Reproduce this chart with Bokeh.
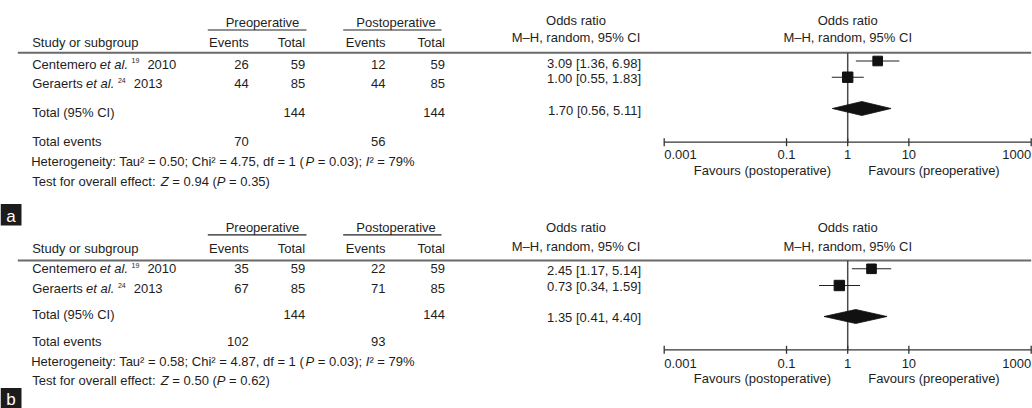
import math
from bokeh.plotting import figure
from bokeh.models import Range1d, LogScale, ColumnDataSource
from bokeh.core.properties import value
from bokeh.embed import file_html
from bokeh.resources import INLINE

# ---------------- data ----------------
panel_names = ["a", "b"]
study_names = ["Centemero", "Geraerts"]
study_refs = ["19", "24"]
study_years = ["2010", "2013"]

pre_events = [[26, 44], [35, 67]]
pre_total = [[59, 85], [59, 85]]
post_events = [[12, 44], [22, 71]]
post_total = [[59, 85], [59, 85]]

odds = [[3.09, 1.00], [2.45, 0.73]]
ci_low = [[1.36, 0.55], [1.17, 0.34]]
ci_high = [[6.98, 1.83], [5.14, 1.59]]

pooled_or = [1.70, 1.35]
pooled_low = [0.56, 0.41]
pooled_high = [5.11, 4.40]

total_pre = [144, 144]
total_post = [144, 144]
events_pre = [70, 102]
events_post = [56, 93]

tau2 = ["0.50", "0.58"]
chi2 = ["4.75", "4.87"]
het_df = ["1", "1"]
p_het = ["0.03", "0.03"]
i2 = ["79", "79"]
z_val = ["0.94", "0.50"]
p_val = ["0.35", "0.62"]

axis_ticks = [0.001, 0.1, 1, 10, 1000]
axis_tick_labels = ["0.001", "0.1", "1", "10", "1000"]
favours_labels = ["Favours (postoperative)", "Favours (preoperative)"]

# ---------------- layout (reference pixel units) ----------------
W_REF, H_REF = 1032, 408
FIG_W, FIG_H = 1032, 408
SX = FIG_W / W_REF
FONT = "Liberation Sans"
FS = 13.0
SUP = 7.0
TXT = "#1e1e1e"
TEXT_DY = -4.0

X_STUDY = 31.7
X_PRE_EV, X_PRE_TOT = 248.3, 304.7
X_POST_EV, X_POST_TOT = 385.0, 444.5
X_PRE_C, X_POST_C = 262.0, 395.5
X_OR_HEAD, X_OR_VAL = 575.5, 640.5
LOG_L, LOG_R = 663.7, 1030.7   # where the first and last tick sit

LAY = [
    dict(grp=26.0, grp_line=29.5, col=45.6, or_h1=24.4, or_h2=40.6, hline=52.3,
         rows=[67.6, 87.3], or_rows=[66.7, 82.3], fr=[60.5, 76.7],
         tot=116.0, or_tot=114.0, dia=108.0, ev=145.2, het=165.2, test=185.3,
         axis=141.7, tick_lab=157.5, fav=174.0, box=(203.5, 225.0), box_text=220.0),
    dict(grp=231.0, grp_line=234.4, col=251.8, or_h1=230.8, or_h2=250.2, hline=260.0,
         rows=[272.2, 292.2], or_rows=[273.6, 290.4], fr=[268.3, 285.0],
         tot=317.7, or_tot=320.6, dia=316.0, ev=345.3, het=365.0, test=384.3,
         axis=349.3, tick_lab=366.7, fav=382.0, box=(387.5, 408.0), box_text=402.5),
]

AW = {' ': 278, '!': 278, '%': 889, '(': 333, ')': 333, ',': 278, '-': 333, '.': 278,
      ':': 278, ';': 278, '=': 584, '[': 278, ']': 278, '\u00b2': 333, '\u2013': 556,
      'A': 667, 'B': 667, 'C': 722, 'D': 722, 'E': 667, 'F': 611, 'G': 778, 'H': 722,
      'I': 278, 'J': 500, 'K': 667, 'L': 556, 'M': 833, 'N': 722, 'O': 778, 'P': 667,
      'Q': 778, 'R': 722, 'S': 667, 'T': 611, 'U': 722, 'V': 667, 'W': 944, 'X': 667,
      'Y': 667, 'Z': 611, 'a': 556, 'b': 556, 'c': 500, 'd': 556, 'e': 556, 'f': 278,
      'g': 556, 'h': 556, 'i': 222, 'j': 222, 'k': 500, 'l': 222, 'm': 833, 'n': 556,
      'o': 556, 'p': 556, 'q': 556, 'r': 333, 's': 500, 't': 278, 'u': 556, 'v': 500,
      'w': 722, 'x': 500, 'y': 500, 'z': 500}


def tw(s, size=FS):
    return sum(AW.get(c, 556) for c in s) / 1000.0 * size


groups = {}


def put(x, y, s, align="left", style="normal", size=FS, rng="default", color=TXT, xoff=0.0):
    # SVG drops leading/trailing blanks, so move x past them and draw the trimmed text
    if align == "left":
        lead = len(s) - len(s.lstrip(" "))
        x += tw(" " * lead, size)
    s = s.strip(" ")
    if not s:
        return
    key = (align, style, size, rng, color, xoff)
    g = groups.setdefault(key, dict(x=[], y=[], text=[]))
    g["x"].append(x)
    g["y"].append(y + TEXT_DY)
    g["text"].append(s)


def put_runs(x, y, runs):
    """runs: list of (text, style) placed one after another."""
    for s, style in runs:
        put(x, y, s, style=style)
        x += tw(s)


p = figure(width=FIG_W, height=FIG_H, x_range=Range1d(0, W_REF), y_range=Range1d(H_REF, 0),
           x_axis_type=None, y_axis_type=None, toolbar_location=None, output_backend="svg",
           min_border=0, min_border_left=0, min_border_right=0, min_border_top=0,
           min_border_bottom=0, outline_line_color=None, background_fill_color="white",
           border_fill_color="white")
p.grid.visible = False

lo_dec = math.log10(axis_ticks[0])
hi_dec = math.log10(axis_ticks[-1])
ppd = (LOG_R - LOG_L) / (hi_dec - lo_dec)
p.extra_x_ranges = {"or": Range1d(10 ** (lo_dec - LOG_L / ppd), 10 ** (hi_dec + (W_REF - LOG_R) / ppd))}
p.extra_x_scales = {"or": LogScale()}

for k, L in enumerate(LAY):
    # ---- headers ----
    put(X_PRE_C, L["grp"], "Preoperative", align="center")
    put(X_POST_C, L["grp"], "Postoperative", align="center")
    p.segment(x0=[207.3, 342.7], x1=[306.0, 441.0], y0=[L["grp_line"]] * 2, y1=[L["grp_line"]] * 2,
              line_color="#222222", line_width=1.1)
    put(X_STUDY, L["col"], "Study or subgroup")
    put(X_PRE_EV, L["col"], "Events", align="right")
    put(X_PRE_TOT, L["col"], "Total", align="right")
    put(X_POST_EV, L["col"], "Events", align="right")
    put(X_POST_TOT, L["col"], "Total", align="right")
    put(X_OR_HEAD, L["or_h1"], "Odds ratio", align="center")
    put(X_OR_HEAD, L["or_h2"], "M\u2013H, random, 95% CI", align="center")
    put(1, L["or_h1"], "Odds ratio", align="center", rng="or")
    put(1, L["or_h2"], "M\u2013H, random, 95% CI", align="center", rng="or")
    p.segment(x0=[17.3], x1=[1030.7], y0=[L["hline"]], y1=[L["hline"]],
              line_color="#6a6a6a", line_width=1.9)

    # ---- study rows ----
    for i in range(len(study_names)):
        y = L["rows"][i]
        x = X_STUDY
        put(x, y, study_names[i])
        x += tw(study_names[i] + " ") - 0.3
        put(x, y, "et al.", style="italic")
        x += tw("et al. ")
        put(x, y - 3.5, study_refs[i], size=SUP)
        x += tw(study_refs[i], SUP) + 8.0
        put(x, y, study_years[i])
        put(X_PRE_EV, y, str(pre_events[k][i]), align="right")
        put(X_PRE_TOT, y, str(pre_total[k][i]), align="right")
        put(X_POST_EV, y, str(post_events[k][i]), align="right")
        put(X_POST_TOT, y, str(post_total[k][i]), align="right")
        put(X_OR_VAL, L["or_rows"][i],
            f"{odds[k][i]:.2f} [{ci_low[k][i]:.2f}, {ci_high[k][i]:.2f}]", align="right")

    # ---- totals ----
    put(X_STUDY, L["tot"], "Total (95% CI)")
    put(X_PRE_TOT, L["tot"], str(total_pre[k]), align="right")
    put(X_POST_TOT, L["tot"], str(total_post[k]), align="right")
    put(X_OR_VAL, L["or_tot"],
        f"{pooled_or[k]:.2f} [{pooled_low[k]:.2f}, {pooled_high[k]:.2f}]", align="right")
    put(X_STUDY, L["ev"], "Total events")
    put(X_PRE_EV, L["ev"], str(events_pre[k]), align="right")
    put(X_POST_EV, L["ev"], str(events_post[k]), align="right")
    put_runs(X_STUDY - 1.0, L["het"], [
        (f"Heterogeneity: Tau\u00b2 = {tau2[k]}; Chi\u00b2 = {chi2[k]}, df = {het_df[k]} (", "normal"),
        ("P", "italic"),
        (f" = {p_het[k]}); ", "normal"),
        ("I", "italic"),
        (f"\u00b2 = {i2[k]}%", "normal"),
    ])
    put_runs(X_STUDY, L["test"], [
        ("Test for overall effect: ", "normal"),
        ("Z", "italic"),
        (f" = {z_val[k]} (", "normal"),
        ("P", "italic"),
        (f" = {p_val[k]})", "normal"),
    ])

    # ---- forest plot ----
    p.segment(x0=[1], x1=[1], y0=[L["hline"]], y1=[L["axis"]], x_range_name="or",
              line_color="#4a4a4a", line_width=1.5)
    p.segment(x0=ci_low[k], x1=ci_high[k], y0=L["fr"], y1=L["fr"], x_range_name="or",
              line_color="#222222", line_width=1.1)
    p.scatter(x=odds[k], y=L["fr"], marker="square", size=[9.6 * SX, 10.4 * SX],
              x_range_name="or", fill_color="#111111", line_color="#111111")
    yc = L["dia"]
    p.patch(x=[pooled_low[k], pooled_or[k], pooled_high[k], pooled_or[k]],
            y=[yc, yc - 7.0, yc, yc + 7.0], x_range_name="or",
            fill_color="#111111", line_color="#111111", line_width=0.8)

    # axis
    ya = L["axis"]
    p.segment(x0=[axis_ticks[0]], x1=[axis_ticks[-1]], y0=[ya], y1=[ya], x_range_name="or",
              line_color="#333333", line_width=1.3)
    p.segment(x0=axis_ticks, x1=axis_ticks, y0=[ya - 4.0] * len(axis_ticks),
              y1=[ya + 4.0] * len(axis_ticks), x_range_name="or",
              line_color="#333333", line_width=1.3)
    for j, (t, lab) in enumerate(zip(axis_ticks, axis_tick_labels)):
        al = "left" if j == 0 else ("right" if j == len(axis_ticks) - 1 else "center")
        put(t, L["tick_lab"], lab, align=al, rng="or")
    put(1, L["fav"], favours_labels[0], align="right", rng="or", xoff=-16.6)
    put(1, L["fav"], favours_labels[1], align="left", rng="or", xoff=20.5)

    # panel label
    b0, b1 = L["box"]
    p.quad(left=[0.0], right=[21.0], top=[b0], bottom=[b1], fill_color="#1c1c1c", line_color=None)
    put(10.5, L["box_text"], panel_names[k], align="center", size=17.0, color="#ffffff")

for (align, st, size, rng, color, xoff), g in groups.items():
    kw = {}
    if rng != "default":
        kw["x_range_name"] = rng
    p.text(x="x", y="y", text="text", source=ColumnDataSource(g), text_align=align,
           text_baseline="alphabetic", text_font=value(FONT),
           text_font_size=value(f"{size * SX:.2f}px"), text_font_style=st,
           text_color=color, x_offset=xoff * SX, **kw)

open("out.html", "w").write(file_html(p, INLINE))
